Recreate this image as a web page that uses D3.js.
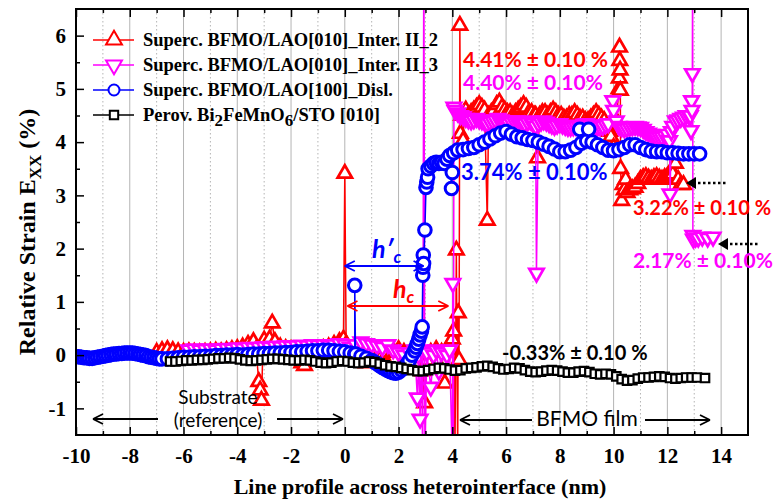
<!DOCTYPE html>
<html>
<head>
<meta charset="utf-8">
<script src="https://cdnjs.cloudflare.com/ajax/libs/d3/7.8.5/d3.min.js"></script>
<style>
  body { margin: 0; background: #fff; }
  text { font-family: 'Liberation Serif', 'Times New Roman', serif; }
</style>
</head>
<body>
<svg id="chart"></svg>
<script>

// ---- data ----
let xMajorTicks = [-10, -8, -6, -4, -2, 0, 2, 4, 6, 8, 10, 12, 14]
let xMinorTicks = [-9, -7, -5, -3, -1, 1, 3, 5, 7, 9, 11, 13]
let yMajorTicks = [-1, 0, 1, 2, 3, 4, 5, 6]
let yMinorTicks = [-0.5, 0.5, 1.5, 2.5, 3.5, 4.5, 5.5]

let seriesNames = [
  'Superc. BFMO/LAO[010]_Inter. II_2',
  'Superc. BFMO/LAO[010]_Inter. II_3',
  'Superc. BFMO/LAO[100]_Disl.',
  'Perov. Bi2FeMnO6/STO [010]'
]

// red, up triangles
let inter2 = [
  [-7.0,0.05],[-6.8,0.08],[-6.6,0.10],[-6.4,0.08],[-6.2,0.06],[-6.0,0.05],[-5.8,0.06],[-5.6,0.05],
  [-5.4,0.04],[-5.2,0.05],[-5.0,0.06],[-4.8,0.07],[-4.6,0.06],[-4.4,0.08],[-4.2,0.10],[-4.0,0.12],
  [-3.8,0.15],[-3.6,0.20],[-3.4,0.25],[-3.3,0.10],[-3.2,-0.50],[-3.15,-0.66],[-3.1,-0.85],[-3.05,0.05],
  [-3.0,0.28],[-2.8,0.30],[-2.7,0.60],[-2.6,0.25],[-2.4,0.15],[-2.2,0.12],[-2.0,0.10],[-1.8,0.08],
  [-1.6,-0.15],[-1.5,-0.20],[-1.4,0.05],[-1.2,0.08],[-1.0,0.10],[-0.8,0.12],[-0.6,0.15],[-0.4,0.20],
  [-0.2,0.25],[-0.05,0.30],[0.0,3.41],[0.05,0.20],[0.2,0.05],[0.4,-0.05],[0.6,-0.10],[0.8,-0.15],
  [1.0,-0.10],[1.2,-0.05],[1.4,0.0],[1.6,0.05],[1.8,0.08],[2.0,0.10],[2.2,0.05],[2.4,0.0],
  [2.6,-0.05],[2.8,0.0],[2.9,-0.30],[2.97,-0.90],[3.05,-0.10],[3.2,0.05],[3.4,0.10],[3.6,0.05],
  [3.72,-0.53],[3.8,0.10],[3.9,0.20],[4.0,0.30],[4.05,0.45],[4.1,-1.8],[4.15,1.97],[4.2,-1.8],
  [4.22,0.79],[4.25,-0.09],[4.28,6.19],[4.3,4.16],[4.35,4.50],[4.4,4.03],[4.45,4.55],[4.5,4.60],
  [4.6,4.50],[4.7,4.55],[4.8,4.60],[4.9,4.65],[5.0,4.70],[5.1,4.65],[5.2,4.60],[5.3,2.53],
  [5.35,4.50],[5.45,4.55],[5.55,4.60],[5.65,4.70],[5.75,4.75],[5.85,4.65],[5.95,4.60],[6.05,4.55],
  [6.15,4.55],[6.25,4.50],[6.35,4.55],[6.45,4.60],[6.55,4.65],[6.65,4.70],[6.75,4.65],[6.85,4.55],
  [6.95,4.55],[7.05,4.50],[7.1,4.50],[7.17,3.70],[7.25,4.50],[7.35,4.55],[7.45,4.55],[7.55,4.50],
  [7.65,4.55],[7.75,4.60],[7.85,4.55],[7.95,4.50],[8.05,4.50],[8.15,4.45],[8.25,4.45],[8.35,4.50],
  [8.45,4.50],[8.55,4.55],[8.65,4.50],[8.75,4.45],[8.85,4.45],[8.95,4.40],[9.05,4.40],[9.15,4.45],
  [9.25,4.50],[9.35,4.55],[9.45,4.50],[9.55,4.45],[9.65,4.40],[9.75,4.30],[9.85,4.20],[9.9,4.10],
  [10.0,3.90],[10.1,4.40],[10.2,5.00],[10.21,5.20],[10.22,5.78],[10.23,5.53],[10.24,5.35],[10.25,4.97],
  [10.26,3.50],[10.3,2.90],[10.35,3.20],[10.4,3.10],[10.45,3.30],[10.5,3.05],[10.6,3.10],[10.7,3.12],
  [10.8,3.15],[10.9,3.22],[11.0,3.30],[11.1,3.33],[11.2,3.35],[11.3,3.32],[11.4,3.30],[11.5,3.33],
  [11.6,3.35],[11.7,3.32],[11.8,3.30],[11.9,3.33],[12.0,3.35],[12.1,3.38],[12.2,3.40],[12.3,3.60],
  [12.4,3.30],[12.5,3.20],[12.6,3.20]
]

// magenta, down triangles
let inter3 = [
  [-5.8,0.10],[-5.6,0.12],[-5.4,0.10],[-5.2,0.11],[-5.0,0.12],[-4.8,0.10],[-4.6,0.12],[-4.4,0.13],
  [-4.2,0.12],[-4.0,0.14],[-3.8,0.13],[-3.6,0.15],[-3.4,0.14],[-3.2,0.15],[-3.0,0.16],[-2.8,0.15],
  [-2.6,0.17],[-2.4,0.16],[-2.2,0.18],[-2.0,0.17],[-1.8,0.18],[-1.6,0.19],[-1.4,0.18],[-1.2,0.20],
  [-1.0,0.19],[-0.8,0.20],[-0.6,0.18],[-0.4,0.20],[-0.2,0.22],[0.0,0.20],[0.2,0.15],[0.4,0.20],
  [0.6,0.25],[0.8,0.22],[1.0,0.20],[1.2,0.18],[1.4,0.15],[1.6,0.20],[1.8,0.10],[2.0,0.05],
  [2.2,0.0],[2.4,0.05],[2.6,0.10],[2.7,-0.80],[2.75,0.0],[2.8,-1.2],[2.85,0.10],[2.9,-2.0],
  [2.94,8.0],[2.98,-2.0],[3.05,0.05],[3.2,-0.60],[3.3,0.0],[3.4,0.10],[3.5,-0.30],[3.6,0.05],
  [3.8,0.0],[3.9,0.10],[4.0,-2.0],[4.02,1.35],[4.04,-2.0],[4.06,4.66],[4.1,4.60],[4.2,4.55],
  [4.3,4.50],[4.4,4.48],[4.5,4.45],[4.6,4.42],[4.7,4.40],[4.8,4.42],[4.9,4.45],[5.0,4.42],
  [5.1,4.40],[5.2,4.38],[5.3,4.35],[5.4,4.38],[5.5,4.40],[5.6,4.42],[5.7,4.45],[5.8,4.42],
  [5.9,4.40],[6.0,4.38],[6.1,4.35],[6.2,4.38],[6.3,4.40],[6.4,4.40],[6.5,4.38],[6.6,4.36],
  [6.7,4.35],[6.8,4.38],[6.9,4.40],[7.0,4.35],[7.1,4.30],[7.13,1.54],[7.2,4.35],[7.3,4.38],
  [7.4,4.40],[7.5,4.38],[7.6,4.35],[7.7,4.32],[7.8,4.30],[7.9,4.32],[8.0,4.35],[8.1,4.32],
  [8.2,4.30],[8.3,4.28],[8.4,4.28],[8.5,4.29],[8.6,4.30],[8.7,4.31],[8.8,4.32],[8.9,4.34],
  [9.0,4.35],[9.1,4.32],[9.2,4.30],[9.3,4.29],[9.4,4.28],[9.5,4.29],[9.6,4.30],[9.7,4.33],
  [9.8,4.35],[9.97,4.78],[10.0,4.60],[10.1,4.40],[10.2,4.30],[10.3,4.27],[10.4,4.25],[10.5,4.26],
  [10.6,4.28],[10.7,4.29],[10.8,4.30],[10.9,4.29],[11.0,4.28],[11.1,4.24],[11.2,4.20],[11.3,4.17],
  [11.4,4.15],[11.5,4.12],[11.6,4.10],[11.7,4.10],[11.8,4.10],[11.9,4.12],[12.0,4.15],[12.08,4.03],
  [12.1,3.03],[12.15,4.20],[12.2,4.30],[12.3,4.40],[12.4,4.42],[12.5,4.45],[12.6,4.47],[12.7,4.50],
  [12.8,4.50],[12.85,4.50],[12.88,4.22],[12.9,4.78],[12.92,4.60],[12.93,5.29],[12.94,8.0],[12.95,2.25],
  [12.97,2.18],[13.05,2.20],[13.15,2.20],[13.3,2.22],[13.5,2.20],[13.7,2.22]
]

// blue, circles
let disl = [
  [-10,-0.03],[-9.9,-0.03],[-9.8,-0.04],[-9.7,-0.05],[-9.6,-0.05],[-9.5,-0.06],[-9.4,-0.06],[-9.3,-0.05],
  [-9.2,-0.04],[-9.1,-0.03],[-9.0,-0.02],[-8.9,-0.01],[-8.8,0.0],[-8.7,0.01],[-8.6,0.02],[-8.5,0.02],
  [-8.4,0.03],[-8.3,0.03],[-8.2,0.04],[-8.1,0.04],[-8.0,0.04],[-7.9,0.04],[-7.8,0.03],[-7.7,0.02],
  [-7.6,0.01],[-7.5,0.0],[-7.4,-0.01],[-7.3,-0.03],[-7.2,-0.04],[-7.1,-0.05],[-7.0,-0.06],[-6.9,-0.07],
  [-6.8,-0.07],[-6.6,-0.07],[-6.4,-0.06],[-6.2,-0.05],[-6.0,-0.04],[-5.8,-0.04],[-5.6,-0.03],[-5.4,-0.03],
  [-5.2,-0.02],[-5.0,-0.02],[-4.8,-0.01],[-4.6,-0.01],[-4.4,0.0],[-4.2,0.0],[-4.0,0.01],[-3.8,0.0],
  [-3.6,0.01],[-3.4,0.02],[-3.2,0.02],[-3.0,0.03],[-2.8,0.03],[-2.6,0.04],[-2.4,0.04],[-2.2,0.05],
  [-2.0,0.05],[-1.8,0.06],[-1.6,0.06],[-1.4,0.07],[-1.2,0.08],[-1.0,0.08],[-0.8,0.09],[-0.6,0.09],
  [-0.4,0.08],[-0.2,0.07],[0.0,0.06],[0.2,0.04],[0.37,0.02],[0.37,1.31],[0.4,0.02],[0.6,-0.02],
  [0.8,-0.06],[1.0,-0.10],[1.1,-0.13],[1.2,-0.16],[1.3,-0.20],[1.4,-0.23],[1.5,-0.26],[1.6,-0.29],
  [1.7,-0.31],[1.8,-0.33],[1.9,-0.34],[2.0,-0.32],[2.1,-0.28],[2.2,-0.24],[2.3,-0.18],[2.4,-0.10],
  [2.5,0.0],[2.6,0.08],[2.65,0.15],[2.7,0.22],[2.75,0.30],[2.8,0.38],[2.85,0.45],
  [2.88,0.53],[2.9,1.50],[2.91,1.65],[2.92,1.88],[2.93,1.72],[2.98,2.35],[3.02,3.15],[3.05,3.25],
  [3.08,3.34],[3.1,3.50],[3.2,3.55],[3.3,3.60],[3.4,3.62],[3.5,3.60],[3.6,3.62],[3.7,3.60],
  [3.8,3.68],[3.9,3.75],[3.97,3.13],[4.0,3.43],[4.05,3.80],[4.2,3.85],[4.4,3.86],[4.6,3.88],
  [4.8,3.90],[5.0,3.95],[5.2,4.00],[5.4,4.06],[5.6,4.12],[5.8,4.17],[6.0,4.20],[6.2,4.15],
  [6.4,4.10],[6.6,4.08],[6.8,4.05],[7.0,4.03],[7.2,4.00],[7.4,3.96],[7.6,3.92],[7.8,3.87],
  [8.0,3.82],[8.2,3.82],[8.4,3.85],[8.6,3.90],[8.74,4.24],[8.8,3.98],[9.0,4.02],[9.07,4.24],
  [9.2,4.00],[9.4,3.95],[9.6,3.90],[9.8,3.85],[10.0,3.84],[10.2,3.86],[10.4,3.90],[10.6,3.95],
  [10.8,3.95],[11.0,3.90],[11.2,3.86],[11.4,3.83],[11.6,3.82],[11.8,3.82],[12.0,3.80],[12.2,3.80],
  [12.4,3.79],[12.6,3.78],[12.8,3.78],[13.0,3.78],[13.2,3.78]
]

// black, squares
let perov = [
  [-6.5,-0.12],[-6.3,-0.12],[-6.1,-0.11],[-5.9,-0.10],[-5.7,-0.10],[-5.5,-0.09],[-5.3,-0.09],[-5.1,-0.08],
  [-4.9,-0.07],[-4.7,-0.06],[-4.5,-0.06],[-4.3,-0.05],[-4.1,-0.06],[-3.9,-0.08],[-3.7,-0.10],[-3.5,-0.11],
  [-3.3,-0.10],[-3.1,-0.09],[-2.9,-0.08],[-2.7,-0.07],[-2.5,-0.07],[-2.3,-0.08],[-2.1,-0.09],[-1.9,-0.10],
  [-1.7,-0.10],[-1.5,-0.09],[-1.3,-0.10],[-1.1,-0.12],[-0.9,-0.14],[-0.7,-0.15],[-0.5,-0.14],[-0.3,-0.12],
  [-0.1,-0.11],[0.1,-0.12],[0.3,-0.14],[0.5,-0.15],[0.7,-0.14],[0.9,-0.12],[1.1,-0.13],[1.3,-0.16],
  [1.5,-0.19],[1.7,-0.21],[1.9,-0.22],[2.1,-0.24],[2.3,-0.26],[2.5,-0.28],[2.7,-0.30],[2.9,-0.30],
  [3.1,-0.28],[3.3,-0.26],[3.5,-0.24],[3.7,-0.25],[3.9,-0.27],[4.1,-0.29],[4.3,-0.28],[4.5,-0.25],
  [4.7,-0.24],[4.9,-0.23],[5.1,-0.21],[5.3,-0.20],[5.5,-0.22],[5.7,-0.25],[5.9,-0.27],[6.1,-0.26],
  [6.3,-0.24],[6.5,-0.25],[6.7,-0.28],[6.9,-0.31],[7.1,-0.32],[7.3,-0.31],[7.5,-0.29],[7.7,-0.28],
  [7.9,-0.29],[8.1,-0.31],[8.3,-0.33],[8.5,-0.33],[8.7,-0.31],[8.9,-0.30],[9.1,-0.32],[9.3,-0.35],
  [9.5,-0.36],[9.7,-0.35],[9.9,-0.36],[10.1,-0.40],[10.3,-0.45],[10.5,-0.48],[10.7,-0.47],[10.9,-0.44],
  [11.1,-0.42],[11.3,-0.42],[11.5,-0.41],[11.7,-0.40],[11.9,-0.41],[12.1,-0.43],[12.3,-0.44],[12.5,-0.43],
  [12.7,-0.42],[12.9,-0.42],[13.1,-0.42],[13.4,-0.43]
]

// ---- layout ----
let width = 781
let height = 501
let plotLeft = 76, plotRight = 748, plotTop = 9, plotBottom = 435

let svg = d3.select('#chart').attr('width', width).attr('height', height)

let xScale = d3.scaleLinear().domain([-10, 15]).range([plotLeft, plotRight])
let yScale = d3.scaleLinear().domain([-1.5, 6.5]).range([plotBottom, plotTop])

svg.append('defs').append('clipPath').attr('id', 'plotClip')
  .append('rect')
  .attr('x', plotLeft).attr('y', plotTop)
  .attr('width', plotRight - plotLeft).attr('height', plotBottom - plotTop)

// vertical grid lines
svg.append('g').selectAll('line')
  .data(xMajorTicks.filter(d => d > -10))
  .enter().append('line')
  .attr('x1', d => xScale(d)).attr('x2', d => xScale(d))
  .attr('y1', plotTop).attr('y2', plotBottom)
  .attr('stroke', '#b4b4b4').attr('stroke-width', 1)

svg.append('g').selectAll('line')
  .data(xMinorTicks)
  .enter().append('line')
  .attr('x1', d => xScale(d)).attr('x2', d => xScale(d))
  .attr('y1', plotTop).attr('y2', plotBottom)
  .attr('stroke', '#b4b4b4').attr('stroke-width', 1)
  .attr('stroke-dasharray', '1.5,2.5')

// ---- series ----
let lineGen = d3.line().x(d => xScale(d[0])).y(d => yScale(d[1]))
let plotArea = svg.append('g').attr('clip-path', 'url(#plotClip)')

let drawSeries = (data, color, symbolType, size, rotate, strokeW) => {
  let g = plotArea.append('g')
  g.append('path')
    .datum(data)
    .attr('d', lineGen)
    .attr('fill', 'none')
    .attr('stroke', color)
    .attr('stroke-width', 1.5)
  g.selectAll('path.mk')
    .data(data)
    .enter().append('path')
    .attr('class', 'mk')
    .attr('d', d3.symbol().type(symbolType).size(size))
    .attr('transform', d => 'translate(' + xScale(d[0]) + ',' + yScale(d[1]) + ')' + (rotate ? ' rotate(180)' : ''))
    .attr('fill', 'white')
    .attr('stroke', color)
    .attr('stroke-width', strokeW)
}

drawSeries(inter2, '#ff0000', d3.symbolTriangle, 90, false, 2.7)
drawSeries(inter3, '#ff00ff', d3.symbolTriangle, 90, true, 2.7)
drawSeries(disl, '#0000ff', d3.symbolCircle, 125, false, 3)
drawSeries(perov, '#000000', d3.symbolSquare, 72, false, 2.2)

// ---- axes ----
let axisFont = g => g.selectAll('text')
  .style('font-family', "'Liberation Serif', serif")
  .style('font-weight', 'bold')
  .style('font-size', '21px')
  .attr('fill', '#000')

let xAxis = svg.append('g')
  .attr('transform', 'translate(0,' + plotBottom + ')')
  .call(d3.axisBottom(xScale).tickValues(xMajorTicks).tickSize(-8).tickPadding(13).tickFormat(d => String(d)))
xAxis.call(axisFont)
xAxis.select('.domain').remove()

svg.append('g')
  .attr('transform', 'translate(0,' + plotBottom + ')')
  .call(d3.axisBottom(xScale).tickValues(xMinorTicks).tickSize(-4).tickFormat(''))
  .select('.domain').remove()

svg.append('g')
  .attr('transform', 'translate(0,' + plotTop + ')')
  .call(d3.axisTop(xScale).tickValues(xMajorTicks).tickSize(-8).tickFormat(''))
  .select('.domain').remove()

svg.append('g')
  .attr('transform', 'translate(0,' + plotTop + ')')
  .call(d3.axisTop(xScale).tickValues(xMinorTicks).tickSize(-4).tickFormat(''))
  .select('.domain').remove()

let yAxis = svg.append('g')
  .attr('transform', 'translate(' + plotLeft + ',0)')
  .call(d3.axisLeft(yScale).tickValues(yMajorTicks).tickSize(-8).tickPadding(10).tickFormat(d => String(d)))
yAxis.call(axisFont)
yAxis.select('.domain').remove()

svg.append('g')
  .attr('transform', 'translate(' + plotLeft + ',0)')
  .call(d3.axisLeft(yScale).tickValues(yMinorTicks).tickSize(-4).tickFormat(''))
  .select('.domain').remove()

svg.selectAll('.tick line').attr('stroke', '#000').attr('stroke-width', 1.5)

svg.append('rect')
  .attr('x', plotLeft).attr('y', plotTop)
  .attr('width', plotRight - plotLeft).attr('height', plotBottom - plotTop)
  .attr('fill', 'none').attr('stroke', '#000').attr('stroke-width', 2)

// axis titles
svg.append('text')
  .attr('x', 420).attr('y', 494)
  .attr('text-anchor', 'middle')
  .style('font-weight', 'bold').style('font-size', '22px')
  .text('Line profile across heterointerface (nm)')

let yTitle = svg.append('text')
  .attr('transform', 'translate(35,232) rotate(-90)')
  .attr('text-anchor', 'middle')
  .style('font-weight', 'bold').style('font-size', '24px')
yTitle.append('tspan').text('Relative Strain E')
yTitle.append('tspan').attr('dy', 6).style('font-size', '17px').text('XX')
yTitle.append('tspan').attr('dy', -6).text(' (%)')

// ---- legend ----
let legendColors = ['#ff0000', '#ff00ff', '#0000ff', '#000000']
let legendSymbols = [d3.symbolTriangle, d3.symbolTriangle, d3.symbolCircle, d3.symbolSquare]
let legendRot = [false, true, false, false]
let legendSizes = [110, 110, 95, 70]
let legend = svg.append('g')
seriesNames.forEach((name, i) => {
  let cy = 40 + i * 25
  legend.append('line')
    .attr('x1', 93).attr('x2', 134).attr('y1', cy).attr('y2', cy)
    .attr('stroke', legendColors[i]).attr('stroke-width', 1.5)
  legend.append('path')
    .attr('d', d3.symbol().type(legendSymbols[i]).size(legendSizes[i]))
    .attr('transform', 'translate(114,' + cy + ')' + (legendRot[i] ? ' rotate(180)' : ''))
    .attr('fill', 'white').attr('stroke', legendColors[i]).attr('stroke-width', 2)
  let t = legend.append('text')
    .attr('x', 143).attr('y', cy + 6)
    .style('font-weight', 'bold').style('font-size', '18.5px')
  if (i === 3) {
    t.append('tspan').text('Perov. Bi')
    t.append('tspan').attr('dy', 5).style('font-size', '17px').text('2')
    t.append('tspan').attr('dy', -5).text('FeMnO')
    t.append('tspan').attr('dy', 5).style('font-size', '17px').text('6')
    t.append('tspan').attr('dy', -5).text('/STO [010]')
  } else {
    t.text(name)
  }
})

// ---- annotations ----
let annoFont = "Lato, 'Open Sans', sans-serif"
let annotate = (txt, x, y, color, size) => {
  svg.append('text')
    .attr('x', x).attr('y', y)
    .style('font-family', annoFont)
    .style('font-weight', 'bold')
    .style('font-size', size + 'px')
    .attr('fill', color)
    .text(txt)
}
annotate('4.41% \u00b1 0.10 %', 463, 67, '#ff0000', 21)
annotate('4.40% \u00b1 0.10%', 463, 90, '#ff00ff', 21)
annotate('3.74% \u00b1 0.10%', 461, 180, '#0000ff', 22)
annotate('3.22% \u00b1 0.10 %', 633, 215, '#ff0000', 20)
annotate('2.17% \u00b1 0.10%', 633, 268, '#ff00ff', 21)
annotate('-0.33% \u00b1 0.10 %', 502, 360, '#000000', 20)

let arrowHead = (x, y, dir, color) => {
  // dir: -1 points left, 1 points right
  svg.append('path')
    .attr('d', 'M' + x + ',' + y + ' l' + (-dir * 10) + ',-5 M' + x + ',' + y + ' l' + (-dir * 10) + ',5')
    .attr('stroke', color).attr('stroke-width', 1.8).attr('fill', 'none')
}
let hArrow = (x1, x2, y, color, headLeft, headRight) => {
  svg.append('line')
    .attr('x1', x1).attr('x2', x2).attr('y1', y).attr('y2', y)
    .attr('stroke', color).attr('stroke-width', 1.8)
  if (headLeft) arrowHead(x1, y, -1, color)
  if (headRight) arrowHead(x2, y, 1, color)
}

// substrate / film ranges
hArrow(93, 158, 419, '#000', true, false)
hArrow(277, 343, 419, '#000', false, true)
hArrow(460, 532, 420, '#000', true, false)
hArrow(645, 710, 420, '#000', false, true)

let plainText = (txt, x, y, size, anchor) => {
  svg.append('text')
    .attr('x', x).attr('y', y)
    .attr('text-anchor', anchor)
    .style('font-family', annoFont)
    .style('font-size', size + 'px')
    .text(txt)
}
plainText('Substrate', 218, 404, 19, 'middle')
plainText('(reference)', 218, 427, 19, 'middle')
plainText('BFMO film', 587, 426, 21, 'middle')

// critical thickness arrows
hArrow(xScale(0), xScale(2.93), 266, '#0000ff', true, true)
hArrow(xScale(0.1), xScale(3.85), 306, '#ff0000', true, true)

let italicLabel = (main, x, y, color) => {
  let t = svg.append('text')
    .attr('x', x).attr('y', y)
    .style('font-family', annoFont)
    .style('font-style', 'italic').style('font-weight', 'bold')
    .style('font-size', '25px')
    .attr('fill', color)
  t.append('tspan').text(main)
  t.append('tspan').attr('dy', 5).style('font-size', '17px').text('c')
}
italicLabel('h\u2032', 372, 258, '#0000ff')
italicLabel('h', 393, 298, '#ff0000')

// dotted arrows pointing at the plateaus
let dottedArrow = (x1, x2, y) => {
  svg.append('path')
    .attr('d', 'M' + x1 + ',' + y + ' l10,-6 l0,12 z')
    .attr('fill', '#000')
  svg.append('line')
    .attr('x1', x1 + 12).attr('x2', x2).attr('y1', y).attr('y2', y)
    .attr('stroke', '#000').attr('stroke-width', 2.5)
    .attr('stroke-dasharray', '2.5,2.5')
}
dottedArrow(686, 727, 183)
dottedArrow(718, 760, 244)

</script>
</body>
</html>
